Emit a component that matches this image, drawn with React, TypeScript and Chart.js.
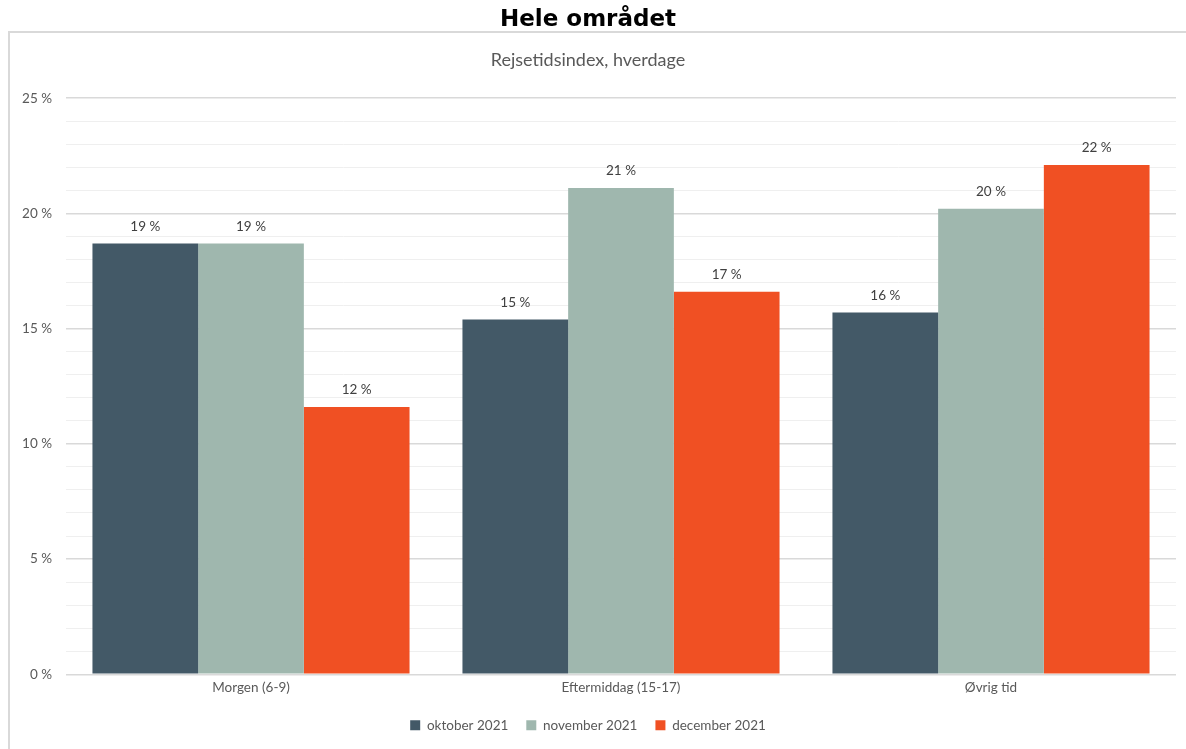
import React, { useEffect, useRef } from "react";
import { Chart, registerables } from "chart.js";

Chart.register(...registerables);

const categories = ["Morgen (6-9)", "Eftermiddag (15-17)", "Øvrig tid"];
const seriesNames = ["oktober 2021", "november 2021", "december 2021"];
const oktober = [18.7, 15.4, 15.7];
const november = [18.7, 21.1, 20.2];
const december = [11.6, 16.6, 22.1];
const seriesColors = ["#435967", "#9fb7ae", "#f05023"];
const yTickStep = 1;
const yLabelStep = 5;
const yMax = 25;

const FONT = "Lato, 'Open Sans', sans-serif";

const dataLabelPlugin = {
  id: "dataLabels",
  afterDatasetsDraw(chart: any) {
    const ctx = chart.ctx;
    ctx.save();
    ctx.font = `13.5px ${FONT}`;
    ctx.fillStyle = "#404040";
    ctx.textAlign = "center";
    ctx.textBaseline = "middle";
    chart.data.datasets.forEach((ds: any, i: number) => {
      const meta = chart.getDatasetMeta(i);
      meta.data.forEach((bar: any, j: number) => {
        const v = ds.data[j];
        ctx.fillText(`${Math.round(v)} %`, bar.x, bar.y - 17);
      });
    });
    ctx.restore();
  },
};

export default function App() {
  const ref = useRef<HTMLCanvasElement | null>(null);
  useEffect(() => {
    if (!ref.current) return;
    const chart = new Chart(ref.current, {
      type: "bar",
      data: {
        labels: categories,
        datasets: [oktober, november, december].map((d, i) => ({
          label: seriesNames[i],
          data: d,
          backgroundColor: seriesColors[i],
          borderWidth: 0,
          categoryPercentage: 0.857,
          barPercentage: 1,
        })),
      },
      options: {
        animation: false,
        responsive: false,
        maintainAspectRatio: false,
        layout: { padding: { left: 0, right: 10, top: 0, bottom: 7 } },
        plugins: {
          title: {
            display: true,
            text: "Hele området",
            font: { family: "'DejaVu Sans', Verdana, sans-serif", size: 23, weight: "bold" },
            color: "#000000",
            padding: { top: 6, bottom: 6 },
          },
          subtitle: {
            display: true,
            text: "Rejsetidsindex, hverdage",
            font: { family: FONT, size: 18 },
            color: "#595959",
            padding: { top: 10, bottom: 27 },
          },
          legend: {
            position: "bottom",
            labels: {
              boxWidth: 10,
              boxHeight: 10,
              padding: 18,
              color: "#595959",
              font: { family: FONT, size: 13.5 },
            },
          },
          tooltip: { enabled: false },
        },
        scales: {
          x: {
            grid: { display: false, drawTicks: false },
            border: { display: false },
            ticks: { color: "#595959", font: { family: FONT, size: 13.5 }, padding: 5 },
          },
          y: {
            min: 0,
            max: yMax,
            afterFit: (scale: any) => {
              scale.width = 66;
            },
            border: { display: false },
            grid: {
              drawTicks: false,
              color: (c: any) => (c.tick && c.tick.value % yLabelStep === 0 ? "#d9d9d9" : "#efefef"),
              lineWidth: (c: any) => (c.tick && c.tick.value % yLabelStep === 0 ? 1.5 : 1),
            },
            ticks: {
              stepSize: yTickStep,
              padding: 14,
              color: "#595959",
              font: { family: FONT, size: 13.5 },
              callback: (v: any) => (Number(v) % yLabelStep === 0 ? `${v} %` : ""),
              autoSkip: false,
            },
          },
        },
      },
      plugins: [dataLabelPlugin],
    } as any);
    return () => chart.destroy();
  }, []);

  return (
    <div style={{ position: "fixed", left: 0, top: 0, width: 1186, height: 749, background: "#fff", overflow: "hidden" }}>
      <div
        style={{
          position: "absolute",
          left: 8,
          top: 31,
          width: 1200,
          height: 800,
          border: "2px solid #d9d9d9",
        }}
      />
      <canvas ref={ref} width={1186} height={749} style={{ position: "absolute", left: 0, top: 0 }} />
    </div>
  );
}
